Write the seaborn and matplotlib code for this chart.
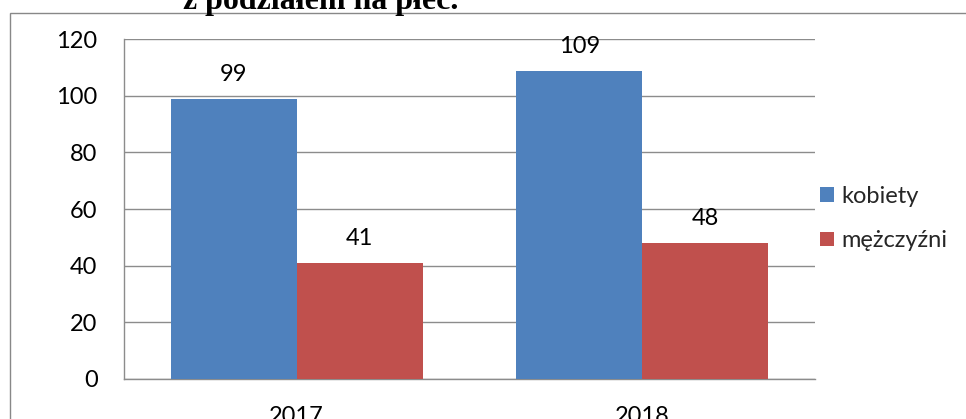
import matplotlib
matplotlib.use("Agg")
import matplotlib.pyplot as plt
import seaborn as sns
import pandas as pd
from matplotlib.patches import Rectangle

years = ["2017", "2018"]
kobiety = [99, 109]
mezczyzni = [41, 48]
series_names = ["kobiety", "mężczyźni"]
yticks = [0, 20, 40, 60, 80, 100, 120]
title = "z podziałem na płeć."

df = pd.DataFrame({
    "rok": years * 2,
    "liczba": kobiety + mezczyzni,
    "płeć": [series_names[0]] * len(years) + [series_names[1]] * len(years),
})

sns.set_theme(style="white")
plt.rcParams["font.family"] = ["Lato", "DejaVu Sans"]

W, H = 966, 419
fig = plt.figure(figsize=(W / 100, H / 100), dpi=100)
ax = fig.add_axes([124 / W, (H - 378.5) / H, (815 - 124) / W, (378.5 - 39.5) / H])

grid_c = "#8c8c8c"
sns.barplot(data=df, x="rok", y="liczba", hue="płeć", order=years,
            hue_order=series_names, palette=["#4F81BD", "#C0504D"],
            width=0.73, gap=0, linewidth=0, saturation=1, ax=ax, zorder=3)

ax.set_ylim(0, 120)
ax.set_xlim(-0.5, 1.5)
ax.set_yticks(yticks)
ax.set_xlabel("")
ax.set_ylabel("")
ax.yaxis.grid(True, color=grid_c, linewidth=1.0, zorder=0)
ax.set_axisbelow(True)
for s in ["top", "right"]:
    ax.spines[s].set_visible(False)
for s in ["left", "bottom"]:
    ax.spines[s].set_color(grid_c)
    ax.spines[s].set_linewidth(1.0)
ax.tick_params(axis="both", length=0, labelsize=17, colors="black")
ax.tick_params(axis="y", pad=19)
ax.tick_params(axis="x", pad=20)

for cont in ax.containers:
    ax.bar_label(cont, fmt="%d", padding=10, fontsize=17, color="black")

handles, labels = ax.get_legend_handles_labels()
if ax.get_legend() is not None:
    ax.get_legend().remove()
fig.legend(handles, labels, loc="center left",
           bbox_to_anchor=(820 / W, 1 - 218.5 / H), frameon=False,
           fontsize=17, handlelength=0.59, handleheight=0.59,
           handletextpad=0.3, labelspacing=1.0, borderpad=0, borderaxespad=0)

# outer chart border
fig.patches.append(Rectangle((10 / W, -0.2), 1.2, 1.2 - 13 / H,
                             transform=fig.transFigure, fill=False,
                             edgecolor="#888888", linewidth=1.0))

fig.text(183 / W, 1 - 9 / H, title, family=["Liberation Serif"],
         fontweight="bold", fontsize=23, ha="left", va="baseline", color="black")

fig.savefig("out.png", dpi=100)
